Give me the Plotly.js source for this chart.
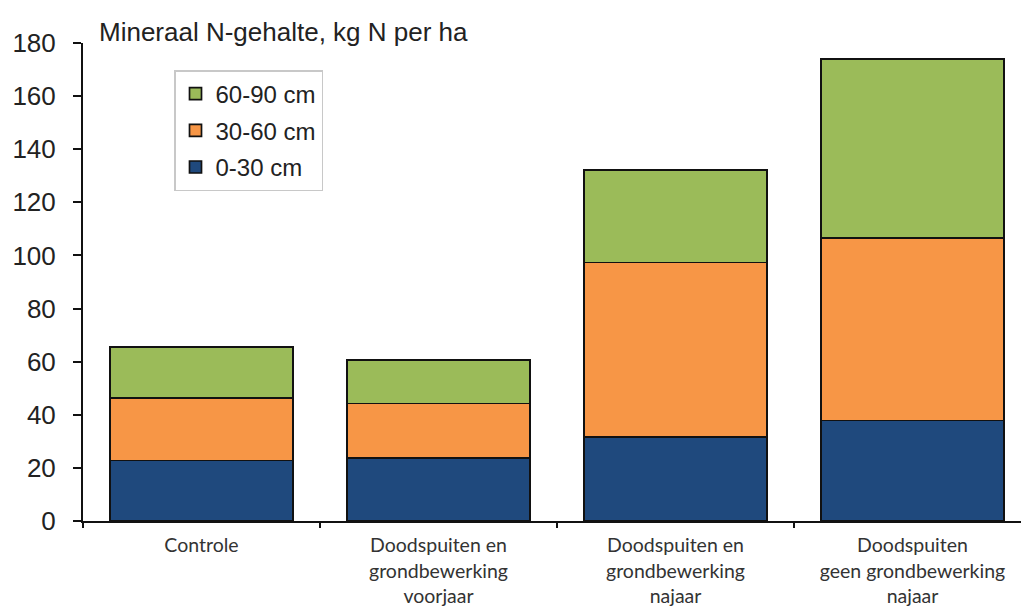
<!DOCTYPE html>
<html>
<head>
<meta charset="utf-8">
<script src="https://cdn.plot.ly/plotly-3.0.1.min.js"></script>
<style>
  html, body { margin: 0; padding: 0; overflow: hidden; background: #fff; }
  #chart { width: 1035px; height: 612px; }
</style>
</head>
<body>
<div id="chart"></div>
<script>
const categories = [
  "Controle",
  "Doodspuiten en<br>grondbewerking<br>voorjaar",
  "Doodspuiten en<br>grondbewerking<br>najaar",
  "Doodspuiten<br>geen grondbewerking<br>najaar"
];
const seriesNames = ["0-30 cm", "30-60 cm", "60-90 cm"];
const layer0_30 = [22.8, 23.6, 31.7, 37.8];
const layer30_60 = [23.4, 20.7, 65.7, 68.9];
const layer60_90 = [19.3, 16.3, 34.8, 67.3];
const colors = ["#1F497D", "#F79646", "#9BBB59"];
const yTicks = [0, 20, 40, 60, 80, 100, 120, 140, 160, 180];

const values = [layer0_30, layer30_60, layer60_90];
const traces = values.map((v, i) => ({
  type: "bar",
  name: seriesNames[i],
  x: categories,
  y: v,
  width: 0.77,
  legendgroup: "g" + i,
  legendrank: 1000 - i,
  marker: { color: colors[i], line: { color: "#111", width: 1.7 } },
  hoverinfo: "none"
}));

const layout = {
  width: 1035,
  height: 612,
  barmode: "stack",
  paper_bgcolor: "#fff",
  plot_bgcolor: "#fff",
  margin: { l: 83, r: 4, t: 43, b: 91 },
  font: { family: "Liberation Sans, Arial, sans-serif", color: "#222" },
  showlegend: true,
  legend: {
    x: 0.096, y: 0.9435, xanchor: "left", yanchor: "top",
    traceorder: "grouped",
    tracegroupgap: 2.5,
    bordercolor: "#c8c8c8", borderwidth: 1.5,
    bgcolor: "#fff",
    font: { size: 24, family: "Liberation Sans, Arial, sans-serif", color: "#222" }
  },
  xaxis: {
    type: "category",
    range: [-0.5, 3.5],
    showline: true, linecolor: "#111", linewidth: 2,
    ticks: "outside", tickson: "boundaries", ticklen: 5, tickwidth: 1.5, tickcolor: "#111",
    ticklabelstandoff: 6,
    showgrid: false, zeroline: false,
    tickfont: { family: "Lato, Open Sans, sans-serif", size: 19.5, color: "#333" },
    fixedrange: true
  },
  yaxis: {
    range: [0, 180],
    tickvals: yTicks,
    ticktext: yTicks.map(String),
    showline: true, linecolor: "#111", linewidth: 2,
    ticks: "outside", ticklen: 8, tickwidth: 2, tickcolor: "#111",
    ticklabelstandoff: 12,
    showgrid: false, zeroline: false,
    tickfont: { family: "Liberation Sans, Arial, sans-serif", size: 26, color: "#222" },
    fixedrange: true
  },
  annotations: [{
    text: "Mineraal N-gehalte, kg N per ha",
    xref: "paper", yref: "paper",
    x: 0.0148, y: 1.023, xanchor: "left", yanchor: "middle",
    showarrow: false,
    font: { size: 26, family: "Liberation Sans, Arial, sans-serif", color: "#222" }
  }]
};

Plotly.newPlot("chart", traces, layout, { displayModeBar: false, staticPlot: true });
</script>
</body>
</html>
